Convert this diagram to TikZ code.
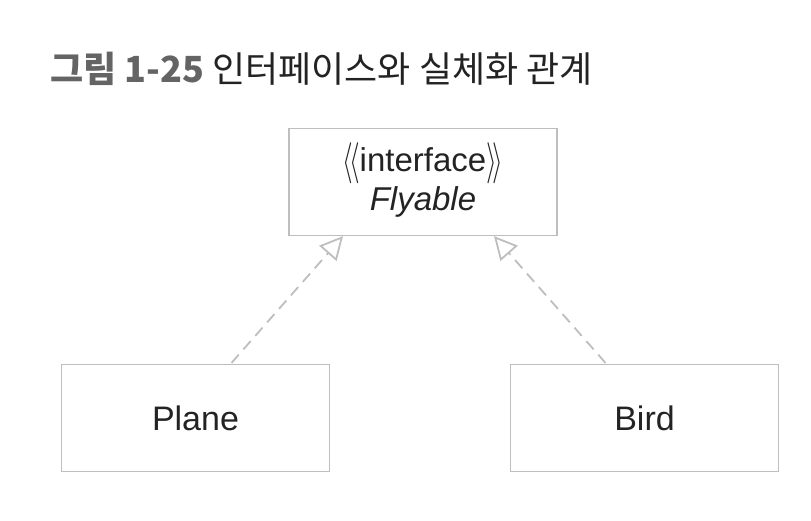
\documentclass[tikz,border=0pt]{standalone}
\usepackage{fontspec}
\setmainfont{Liberation Sans}
\newfontfamily\krfont{Noto Sans CJK KR}
\usetikzlibrary{arrows.meta}
\definecolor{boxgray}{RGB}{190,190,190}
\definecolor{titlegray}{RGB}{100,100,100}
\definecolor{titledark}{RGB}{35,35,35}
\newcommand{\stleft}{\smash{\raisebox{-0.06em}{\scalebox{1.1}[1.65]{$\langle\!\langle$}}}}
\newcommand{\stright}{\smash{\raisebox{-0.06em}{\scalebox{1.1}[1.65]{$\rangle\!\rangle$}}}}
\tikzset{
  classbox/.style={draw=boxgray, line width=1.2pt, minimum width=268pt, minimum height=107pt, inner sep=0pt, align=center, text=titledark, font=\fontsize{34}{38}\selectfont},
  realizes/.style={draw=boxgray, line width=1.8pt, dash pattern=on 11pt off 7pt, -{Triangle[open, length=23pt, width=23pt, line width=1.8pt]}}
}

\begin{document}
\begin{tikzpicture}[x=1pt, y=-1pt]
  \useasboundingbox (0,0) rectangle (811,520);
  \node[anchor=base west, inner sep=0pt, text=titledark, font=\krfont\fontsize{36}{40}\selectfont] (title) at (50,82)
    {\textcolor{titlegray}{\bfseries 그림 1-25} 인터페이스와 실체화 관계};

  \node[classbox, font=\fontsize{33}{39}\selectfont] (Flyable) at (423,182) {\stleft interface\stright\\\itshape Flyable};
  \node[classbox] (Plane) at (195.5,418) {Plane};
  \node[classbox] (Bird) at (644.5,418) {Bird};

  \draw[realizes] (Plane.north) ++(36,-1) coordinate (p) -- (Flyable.south -| 343,0);
  \draw[realizes] (Bird.north) ++(-39,-1) coordinate (b) -- (Flyable.south -| 494,0);
\end{tikzpicture}
\end{document}
